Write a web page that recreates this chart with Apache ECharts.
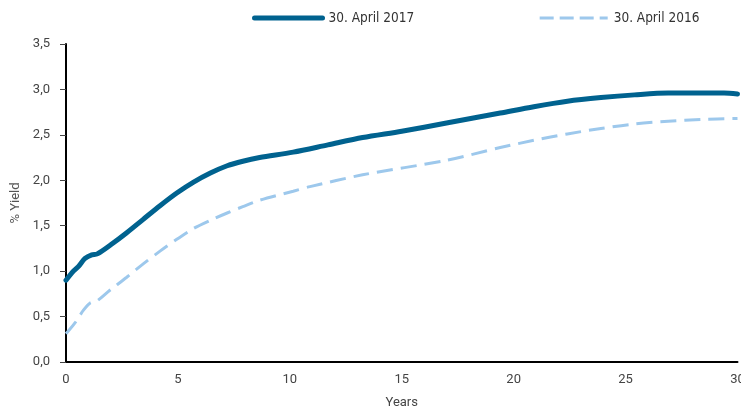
<!DOCTYPE html>
<html>
<head>
<meta charset="utf-8">
<script src="https://cdn.jsdelivr.net/npm/echarts@6/dist/echarts.min.js"></script>
<style>html,body{margin:0;padding:0;background:#fff}#c{width:741px;height:407px}</style>
</head>
<body>
<div id="c"></div>
<script>
const seriesNames = ['30. April 2017', '30. April 2016'];
const years2017 = [0, 0.33, 0.55, 0.85, 1.15, 1.4, 2, 2.7, 3.45, 4.2, 4.95, 5.7, 6.45, 7.2, 7.9, 8.65, 10.15, 11.7, 13.25, 15, 17, 19.4, 20.9, 22.4, 23.9, 25.4, 26.9, 28.4, 29.4, 30];
const yields2017 = [0.90, 1.0, 1.05, 1.14, 1.18, 1.19, 1.29, 1.42, 1.57, 1.72, 1.86, 1.98, 2.08, 2.16, 2.21, 2.25, 2.31, 2.39, 2.47, 2.54, 2.63, 2.74, 2.81, 2.87, 2.91, 2.94, 2.96, 2.96, 2.96, 2.95];
const years2016 = [0, 0.4, 0.78, 1.08, 1.37, 1.96, 2.7, 3.45, 4.2, 4.95, 5.7, 6.45, 7.2, 7.9, 8.65, 10.15, 10.9, 13.25, 17, 19.4, 20.9, 22.4, 23.9, 25.4, 26.9, 28.4, 30];
const yields2016 = [0.31, 0.43, 0.57, 0.65, 0.67, 0.79, 0.93, 1.08, 1.22, 1.35, 1.47, 1.56, 1.64, 1.71, 1.78, 1.88, 1.93, 2.06, 2.22, 2.36, 2.44, 2.51, 2.57, 2.62, 2.65, 2.67, 2.68];
const xAxisName = 'Years';
const yAxisName = '% Yield';

const pairs = (xs, ys) => xs.map((x, i) => [x, ys[i]]);
const font = '"Liberation Sans Narrow", "DejaVu Sans Condensed", sans-serif';
const darkColor = '#00628F';
const lightColor = '#9DC8EC';
const chart = echarts.init(document.getElementById('c'), null, {renderer: 'canvas'});
chart.setOption({
  animation: false,
  legend: {
    left: 252, top: 11, itemWidth: 68, itemHeight: 12, itemGap: 124, padding: 0,
    textStyle: {fontFamily: font, fontSize: 13.5, color: '#333', padding: [0, 0, 0, 1]},
    itemStyle: {opacity: 0},
    data: [
      {name: seriesNames[0], itemStyle: {opacity: 0}, lineStyle: {color: darkColor, width: 5, cap: 'round'}},
      {name: seriesNames[1], itemStyle: {opacity: 0}, lineStyle: {color: lightColor, width: 3, type: [14, 6]}}
    ]
  },
  grid: {left: 66, right: 3.5, top: 44, bottom: 45, containLabel: false, outerBoundsMode: 'none'},
  xAxis: {
    type: 'value', min: 0, max: 30, interval: 5,
    name: xAxisName, nameLocation: 'middle', nameGap: 34,
    nameTextStyle: {fontFamily: 'Roboto, sans-serif', fontSize: 13, color: '#444'},
    axisLine: {show: true, lineStyle: {color: '#000', width: 2}},
    axisTick: {show: false},
    splitLine: {show: false},
    axisLabel: {margin: 11, fontFamily: 'Roboto, sans-serif', fontSize: 13, color: '#444'}
  },
  yAxis: {
    type: 'value', min: 0, max: 3.5, interval: 0.5,
    name: yAxisName, nameLocation: 'middle', nameGap: 41, nameRotate: 90,
    nameTextStyle: {fontFamily: 'Roboto, sans-serif', fontSize: 13, color: '#555'},
    axisLine: {show: true, lineStyle: {color: '#000', width: 2}},
    axisTick: {show: true, length: 6, lineStyle: {color: '#444', width: 1}},
    splitLine: {show: false},
    axisLabel: {margin: 16, fontFamily: 'Roboto, sans-serif', fontSize: 13, color: '#444',
      formatter: v => v.toFixed(1).replace('.', ',')}
  },
  series: [
    {name: seriesNames[0], type: 'line', data: pairs(years2017, yields2017), symbol: 'none', smooth: 0.3,
     lineStyle: {color: darkColor, width: 5, cap: 'round', join: 'round'}, itemStyle: {color: darkColor}, z: 3},
    {name: seriesNames[1], type: 'line', data: pairs(years2016, yields2016), symbol: 'none', smooth: 0.3,
     lineStyle: {color: lightColor, width: 3, type: [16, 8]}, itemStyle: {color: lightColor}, z: 2}
  ]
});
</script>
</body>
</html>
